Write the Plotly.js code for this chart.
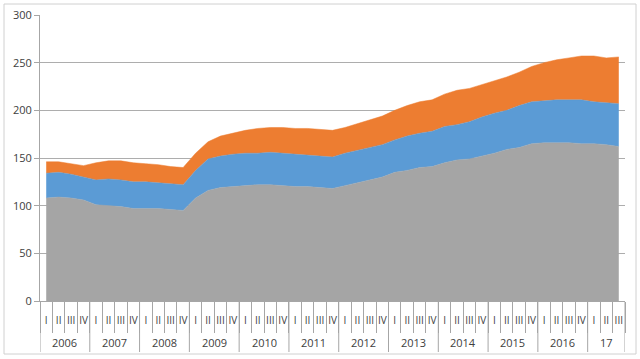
<!DOCTYPE html>
<html>
<head>
<meta charset="utf-8">
<script src="https://cdn.plot.ly/plotly-3.0.1.min.js"></script>
<style>html,body{margin:0;padding:0;background:#fff}#chart{width:640px;height:359px}</style>
</head>
<body>
<div id="chart"></div>
<script>
var years = ["2006","2007","2008","2009","2010","2011","2012","2013","2014","2015","2016","17"];
var quarters = ["I","II","III","IV"];
var grayValues = [108,109,108,106, 101,100,99,97, 97,97,96,95, 108,116,119,120, 121,122,122,121, 120,120,119,118, 121,124,127,130, 135,137,140,141, 145,148,149,152, 155,159,161,165, 166,166,166,165, 165,164,162];
var blueValues = [26,26,25,24, 26,28,28,28, 28,27,27,27, 29,33,33,34, 34,33,34,34, 34,33,33,33, 34,34,34,34, 34,36,36,37, 38,37,39,41, 42,41,44,44, 44,45,45,46, 44,44,45];
var orangeValues = [12,11,11,12, 18,19,20,20, 19,19,18,18, 18,18,21,22, 24,26,26,27, 27,28,28,28, 27,28,29,30, 31,32,33,33, 34,36,35,34, 34,35,35,37, 40,42,44,46, 48,47,49];

var n = grayValues.length;
var idx = [], qText = [];
for (var i = 0; i < n; i++) { idx.push(i); qText.push(quarters[i % 4]); }

function area(y, color) {
  return {
    type: 'scatter', mode: 'lines', x: idx, y: y,
    stackgroup: 'one', fillcolor: color,
    line: {color: color, width: 0.5}, hoverinfo: 'y'
  };
}
var data = [area(grayValues, '#A5A5A5'), area(blueValues, '#5B9BD5'), area(orangeValues, '#ED7D31')];

// year dividers and labels (positions derived from category indices)
var shapes = [{
  type: 'rect', xref: 'paper', yref: 'paper',
  x0: (4 - 40) / 585, x1: (636 - 40) / 585,
  y0: (301 - 354) / 286, y1: (301 - 4) / 286,
  line: {color: '#D0D0D0', width: 1}, layer: 'below'
}];
var annotations = [];
for (var k = 0; k < years.length; k++) {
  var start = k * 4, end = Math.min(k * 4 + 3, n - 1);
  shapes.push({type: 'line', xref: 'x', yref: 'paper', x0: start - 0.5, x1: start - 0.5,
    y0: 0, y1: (301 - 352) / 286, line: {color: '#A6A6A6', width: 1}});
  annotations.push({xref: 'x', yref: 'paper', x: (start + end) / 2, y: (301 - 342) / 286,
    text: years[k], showarrow: false, yanchor: 'middle', xanchor: 'center',
    font: {size: 11, color: '#404040'}});
}
shapes.push({type: 'line', xref: 'x', yref: 'paper', x0: n - 0.5, x1: n - 0.5,
  y0: 0, y1: (301 - 352) / 286, line: {color: '#A6A6A6', width: 1}});

var layout = {
  width: 640, height: 359,
  margin: {l: 40, r: 15, t: 15, b: 58},
  paper_bgcolor: '#fff', plot_bgcolor: '#fff',
  showlegend: false,
  font: {family: 'Open Sans, sans-serif', size: 11, color: '#595959'},
  xaxis: {
    range: [-0.5, n - 0.5],
    tickmode: 'array', tickvals: idx, ticktext: qText,
    ticks: '', tickangle: 0, ticklabelstandoff: 10,
    minor: {tick0: -0.5, dtick: 1, ticks: 'outside', ticklen: 31, tickcolor: '#A6A6A6', showgrid: false},
    showline: true, linecolor: '#A6A6A6', linewidth: 1,
    showgrid: false, zeroline: false,
    tickfont: {size: 10, color: '#404040'}
  },
  yaxis: {
    range: [0, 300], dtick: 50,
    showline: true, linecolor: '#A6A6A6', linewidth: 1,
    ticks: 'outside', ticklen: 5, tickcolor: '#A6A6A6',
    showgrid: true, gridcolor: '#ADADAD', gridwidth: 1,
    zeroline: false,
    tickfont: {size: 11, color: '#404040'}
  },
  shapes: shapes,
  annotations: annotations
};

Plotly.newPlot('chart', data, layout, {displayModeBar: false, staticPlot: true});
</script>
</body>
</html>
